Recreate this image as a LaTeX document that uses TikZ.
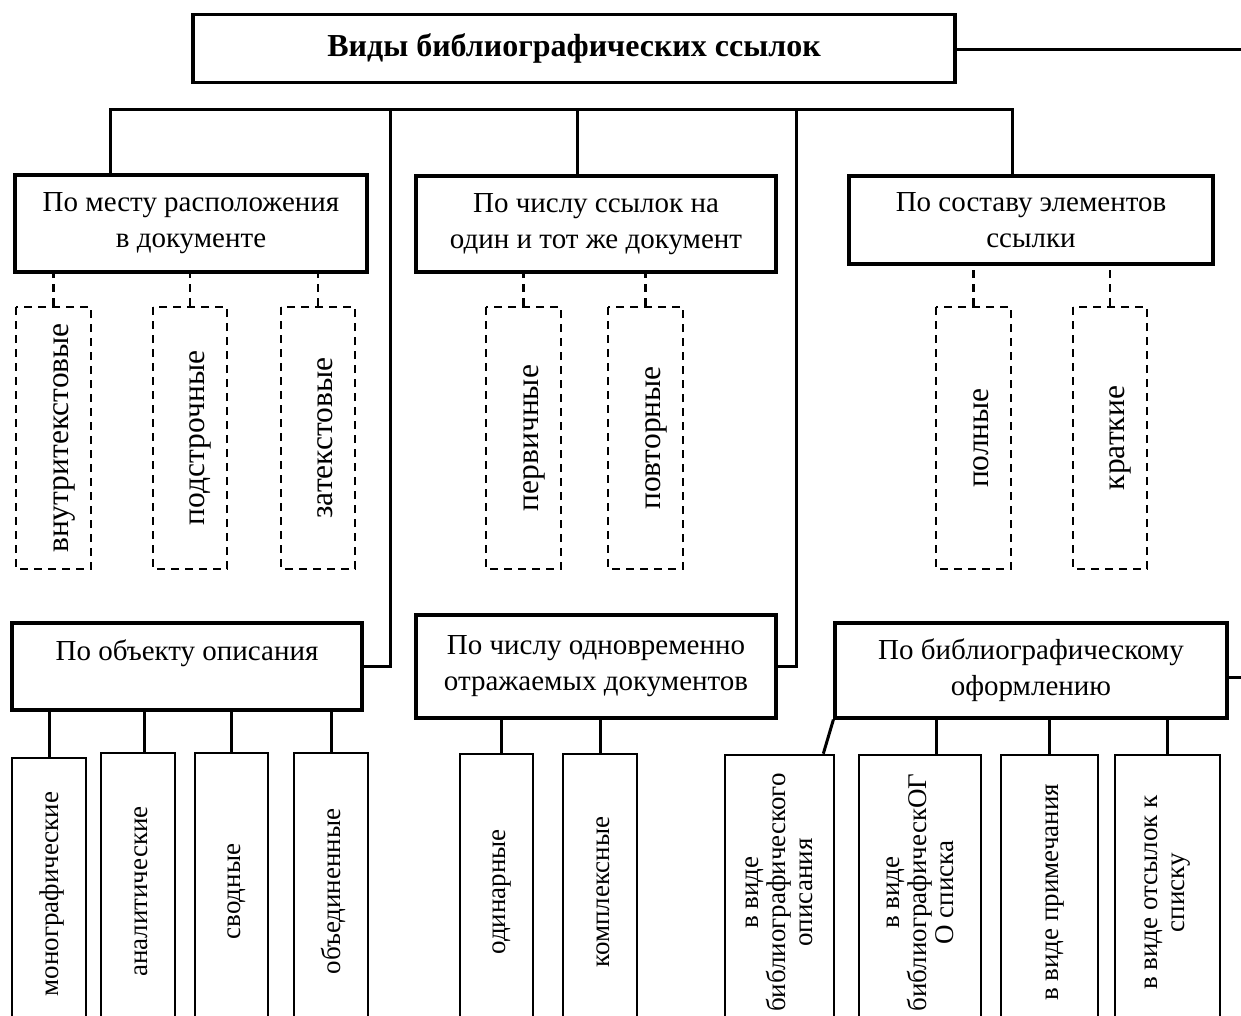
\documentclass[tikz,border=0pt]{standalone}
\usepackage{fontspec}
\setmainfont{Liberation Serif}
\usetikzlibrary{calc}
\newcommand\fhead{\fontsize{29}{36}\selectfont}
\newcommand\fdash{\fontsize{31.5}{36}\selectfont}
\newcommand\fbot{\fontsize{27}{27}\selectfont}
\newcommand\ftitle{\fontsize{32}{36}\selectfont\bfseries}
\tikzset{
  hbox/.style={draw, line width=3.2pt, inner sep=0pt, align=center, font=\fhead},
  dbox/.style={draw, line width=2.4pt, dash pattern=on 8pt off 6pt, inner sep=0pt, align=center, font=\fdash, rotate=90, text height=29pt, text depth=0pt},
  bbox/.style={draw, line width=2.6pt, inner sep=0pt, align=center, font=\fbot, rotate=90},
  bone/.style={bbox, text height=18pt, text depth=0pt},
  conn/.style={line width=3pt},
  dconn/.style={line width=2.4pt, dash pattern=on 8pt off 6pt},
  lbl/.style={inner sep=0pt, font=\fhead}
}
\begin{document}
\begin{tikzpicture}[x=1pt,y=-1pt]
\useasboundingbox (0,0) rectangle (1241,1016);
\clip (0,0) rectangle (1241,1016);
\fill[white] (0,0) rectangle (1241,1016);

% title
\node[hbox, font=\ftitle, minimum width=762pt, minimum height=68pt] (title) at (574,48.5) {Виды библиографических ссылок};

% headings
\node[hbox, minimum width=352pt, minimum height=97pt] (h1) at (191,223.5) {По месту расположения\\в документе};
\node[hbox, minimum width=360pt, minimum height=96pt] (h2) at (596,224) {По числу ссылок на\\один и тот же документ};
\node[hbox, minimum width=364pt, minimum height=88pt] (h3) at (1031,220) {По составу элементов\\ссылки};
\node[hbox, minimum width=350pt, minimum height=87pt] (h4) at (187,666.5) {};
\node[lbl] (h4t) at (187,653) {По объекту описания};
\node[hbox, minimum width=360pt, minimum height=103pt] (h5) at (596,666.5) {По числу одновременно\\отражаемых документов};
\node[hbox, minimum width=392pt, minimum height=95pt] (h6) at (1031,670.5) {По библиографическому\\оформлению};

% dashed boxes
\node[dbox, minimum width=262pt, minimum height=75pt] (d1) at (53.5,438) {внутритекстовые};
\node[dbox, minimum width=262pt, minimum height=74pt] (d2) at (190,438) {подстрочные};
\node[dbox, minimum width=262pt, minimum height=74pt] (d3) at (318,438) {затекстовые};
\node[dbox, minimum width=262pt, minimum height=75pt] (d4) at (523.5,438) {первичные};
\node[dbox, minimum width=262pt, minimum height=75pt] (d5) at (645.5,438) {повторные};
\node[dbox, minimum width=262pt, minimum height=75pt] (d6) at (973.5,438) {полные};
\node[dbox, minimum width=262pt, minimum height=74pt] (d7) at (1110,438) {краткие};

% bottom boxes
\node[bone, minimum width=272pt, minimum height=74pt] (m1) at (49,894) {монографические};
\node[bone, minimum width=277pt, minimum height=74pt] (m2) at (138,891.5) {аналитические};
\node[bone, minimum width=277pt, minimum height=73pt] (m3) at (231.5,891.5) {сводные};
\node[bone, minimum width=277pt, minimum height=74pt] (m4) at (331,891.5) {объединенные};
\node[bone, minimum width=276pt, minimum height=73pt] (m5) at (496.5,892) {одинарные};
\node[bone, minimum width=276pt, minimum height=74pt] (m6) at (600,892) {комплексные};
\node[bbox, minimum width=275pt, minimum height=109pt] (m7) at (779.5,892.5) {в виде\\библиографического\\описания};
\node[bbox, minimum width=275pt, minimum height=122pt] (m8) at (920,892.5) {в виде\\библиографическОГ\\О списка};
\node[bone, minimum width=275pt, minimum height=97pt] (m9) at (1049.5,892.5) {в виде примечания};
\node[bbox, minimum width=275pt, minimum height=105pt] (m10) at (1167.5,892.5) {в виде отсылок к\\списку};

% upper tree connectors
\coordinate (barL) at (110,110);
\coordinate (barR) at (1012,110);
\coordinate (j2) at (577,110);
\coordinate (j4) at (390,110);
\coordinate (j5) at (796,110);
\coordinate (r1) at (1245,50);
\coordinate (r2) at (1245,677);
\draw[conn] (barL |- h1.north) -- (barL) -- (barR) -- (barR |- h3.north);
\draw[conn] (j2) -- (j2 |- h2.north);
\draw[conn] (j4) |- (h4.east);
\draw[conn] (j5) |- (h5.east);
\draw[conn] (title.east |- r1) -- (r1);
\draw[conn] (h6.east |- r2) -- (r2);

% dashed connectors
\foreach \d/\h in {d1/h1,d2/h1,d3/h1,d4/h2,d5/h2,d6/h3,d7/h3}
  \draw[dconn] (\d.east) -- (\d.east |- \h.south);

% lower connectors
\foreach \m/\h in {m1/h4,m3/h4,m4/h4,m6/h5,m9/h6,m10/h6}
  \draw[conn] (\m.east) -- (\m.east |- \h.south);
\draw[conn] ([xshift=6pt]m2.east) -- ++(0,-43);
\draw[conn] ([xshift=5pt]m5.east) -- ++(0,-36);
\draw[conn] ([xshift=16pt]m8.east) -- ++(0,-37);
\draw[conn] (h6.south west) -- ([xshift=-12pt]m7.south east);
\end{tikzpicture}
\end{document}
